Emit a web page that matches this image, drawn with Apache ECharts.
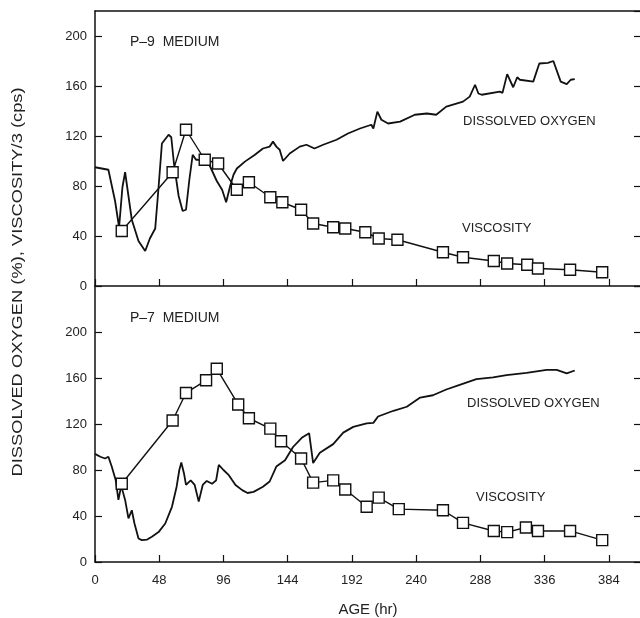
<!DOCTYPE html>
<html>
<head>
<meta charset="utf-8">
<script src="https://cdn.jsdelivr.net/npm/echarts@6/dist/echarts.min.js"></script>
<style>
  html, body { margin: 0; padding: 0; background: #fff; }
  #chart { width: 640px; height: 618px; }
</style>
</head>
<body>
<div id="chart"></div>
<script>
// age ticks (hr) and oxygen / viscosity ticks
var ageTicks = [0, 48, 96, 144, 192, 240, 288, 336, 384];
var valueTicks = [0, 40, 80, 120, 160, 200];

// P-9 medium, [age hr, value]
var p9Oxygen = [
  [0,95],[5,94],[10,93],[15,68],[18,47],[20.5,79],[22.5,91],[25,72],[27.5,53],[32.5,36],
  [37.5,28],[41,38],[45,46],[47.5,79],[50,114],[55,121],[57,119],[59,98],[62.5,72],[65.5,60],
  [68,61],[70.5,85],[73,105],[75.5,101],[77,101],[85,98],[91,84],[95,77],[98,67],[101,80],
  [103.5,89],[106,94],[112,99.5],[119.5,105],[125.5,110],[130.5,111.5],[133,115.5],[135.5,111.5],
  [138,109],[140.5,100],[145.5,106],[153,111.5],[158,113],[164,110],[170.5,113],[180.5,117],
  [189,122],[198,126],[206.5,129],[208,126],[211,139.5],[214,133],[219,130],[228,131.5],
  [239,137],[248,138],[255,137],[262.5,143.5],[275,147.5],[280,151.5],[284,161],[286.5,154],
  [289,153],[302.5,155.5],[304.5,154.5],[308,169.5],[312.5,159],[315.5,167],[317.5,165],
  [327.5,163.5],[332,178],[338.5,178.5],[342.5,180],[348,163.5],[352.5,161.5],[355.5,165],[358.5,165.5]
];
var p9Viscosity = [
  [20,44],[58,91],[68,125],[82,101],[92,98],[106,77],[115,83],[131,71],[140,67],[154,61],
  [163,50],[178,47],[187,46],[202,43],[212,38],[226,37],[260,27],[275,23],[298,20],[308,18],
  [323,17],[331,14],[355,13],[379,11]
];

// P-7 medium
var p7Oxygen = [
  [0,94],[4,91.5],[7.5,90],[10,91.5],[12.5,83],[15.5,71],[17.5,54],[19.5,65.5],[20.5,62.5],
  [22.5,54],[25,38],[27.5,45],[29.5,33.5],[32.5,20.5],[35,19],[39,19.5],[42.5,22],[47.5,26],
  [52.5,33.5],[57.5,48],[61,65.5],[63,80],[64.5,86.5],[66.5,77],[68,67],[71.5,71],[74.5,67],
  [77.5,52.5],[80.5,67],[83.5,70.5],[87.5,68],[90.5,71],[92.5,84.5],[96,80],[100,75.5],
  [105,67],[110,62.5],[114,60],[118.5,61],[125.5,65.5],[130.5,70],[135.5,83],[142,88.5],
  [148,100],[154.5,108],[160,112],[163,86],[168,95],[178,102.5],[185.5,112.5],[193,117.5],
  [203,120.5],[208,121],[211.5,126.5],[223,131.5],[233,135],[243,143],[252.5,145],[262.5,150],
  [272.5,154],[285,159],[297.5,160.5],[307.5,162.5],[322.5,164.5],[337.5,167],[345,167],
  [352.5,164],[358.5,166.5]
];
var p7Viscosity = [
  [20,68],[58,123],[68,147],[83,158],[91,168],[107,137],[115,125],[131,116],[139,105],[154,90],
  [163,69],[178,71],[187,63],[203,48],[212,56],[227,46],[260,45],[275,34],[298,27],[308,26],
  [322,30],[331,27],[355,27],[379,19]
];

var ink = '#111';
var txt = '#222';
var font = 'Liberation Sans';

function xAxisFor(grid, withLabels) {
  return {
    type: 'value', gridIndex: grid, min: 0, max: 408, interval: 48,
    axisLine: { show: true, onZero: false, lineStyle: { color: ink, width: 1.5 } },
    axisTick: { show: true, inside: true, length: 7, lineStyle: { color: ink, width: 1.2 } },
    axisLabel: { show: withLabels, showMaxLabel: false, margin: 12, color: txt,
                 fontSize: 13, fontFamily: font },
    splitLine: { show: false }
  };
}
function yAxisFor(grid, top, side) {
  return {
    type: 'value', gridIndex: grid, min: 0, max: top, interval: 40, position: side,
    axisLine: { show: true, onZero: false, lineStyle: { color: ink, width: 1.5 } },
    axisTick: { show: true, inside: true, length: 7, lineStyle: { color: ink, width: 1.2 } },
    axisLabel: { show: side === 'left', showMaxLabel: false, margin: 8, color: txt,
                 fontSize: 13, fontFamily: font },
    splitLine: { show: false }
  };
}

var topX = xAxisFor(0, false);
topX.position = 'top';
topX.axisTick = { show: false };

var bottomX = xAxisFor(1, true);
bottomX.name = 'AGE (hr)';
bottomX.nameLocation = 'middle';
bottomX.nameGap = 40;
bottomX.nameTextStyle = { color: txt, fontSize: 15, fontFamily: font };

function oxygen(data, xi, yi) {
  return { type: 'line', xAxisIndex: xi, yAxisIndex: yi, data: data, showSymbol: false,
           symbol: 'none', lineStyle: { color: ink, width: 1.8 }, z: 2 };
}
function viscosity(data, xi, yi) {
  return { type: 'line', xAxisIndex: xi, yAxisIndex: yi, data: data, symbol: 'rect',
           symbolSize: 11, lineStyle: { color: ink, width: 1.4 },
           itemStyle: { color: '#fff', borderColor: ink, borderWidth: 1.4 }, z: 3 };
}
function note(str, x, y, size) {
  return { type: 'text', left: x, top: y,
           style: { text: str, fill: txt, font: (size || 13) + 'px "' + font + '"' } };
}

var chart = echarts.init(document.getElementById('chart'), null, { renderer: 'canvas' });
chart.setOption({
  backgroundColor: '#fff',
  animation: false,
  grid: [
    { left: 95, top: 11, width: 546, height: 275, outerBoundsMode: 'none' },
    { left: 95, top: 286, width: 546, height: 276, outerBoundsMode: 'none' }
  ],
  xAxis: [xAxisFor(0, false), topX, bottomX],
  yAxis: [yAxisFor(0, 220, 'left'), yAxisFor(0, 220, 'right'),
          yAxisFor(1, 240, 'left'), yAxisFor(1, 240, 'right')],
  series: [
    oxygen(p9Oxygen, 0, 0),
    viscosity(p9Viscosity, 0, 0),
    oxygen(p7Oxygen, 2, 2),
    viscosity(p7Viscosity, 2, 2)
  ],
  graphic: [
    note('P–9  MEDIUM', 130, 35, 14),
    note('P–7  MEDIUM', 130, 311, 14),
    note('DISSOLVED OXYGEN', 463, 115),
    note('DISSOLVED OXYGEN', 467, 397),
    note('VISCOSITY', 462, 222),
    note('VISCOSITY', 476, 491),
    {
      type: 'text', x: 18, y: 282, rotation: Math.PI / 2, scaleX: 1.22,
      style: { text: 'DISSOLVED OXYGEN (%), VISCOSITY/3 (cps)', fill: txt,
               font: '15px "' + font + '"', align: 'center', verticalAlign: 'middle' }
    }
  ]
});
</script>
</body>
</html>
